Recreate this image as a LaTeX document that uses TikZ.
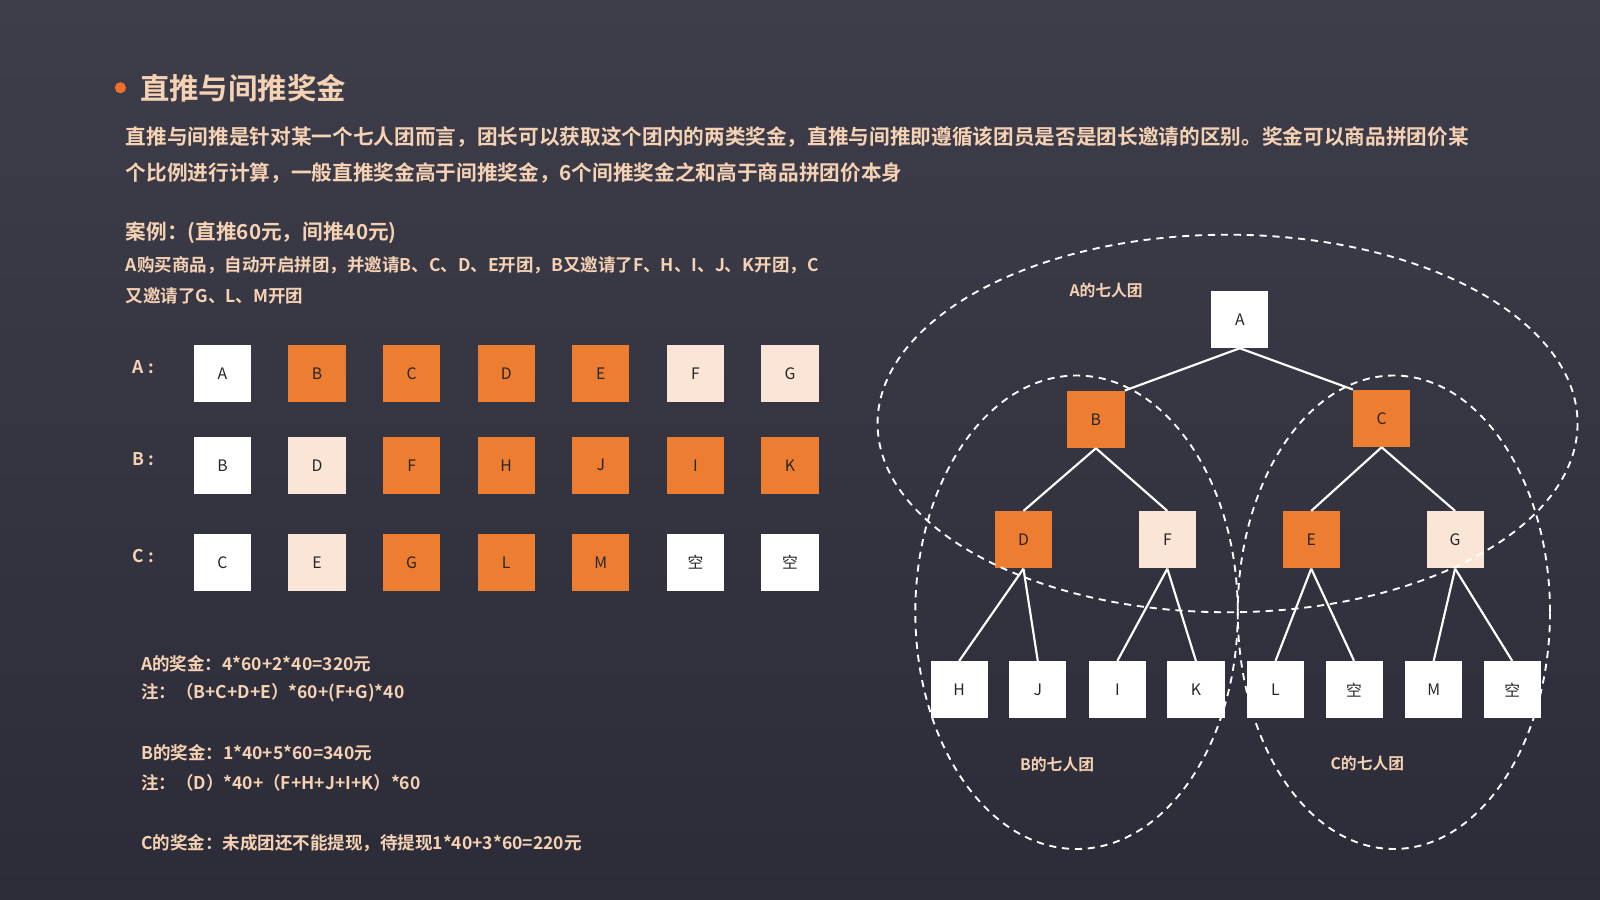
\documentclass[tikz,border=0pt]{standalone}
\usepackage{fontspec}
\setmainfont{Noto Sans CJK SC}[BoldFont={* Bold}]
\begin{document}
\begin{tikzpicture}[x=0.025cm,y=-0.025cm,
 bx/.style={minimum size=1.4cm,inner sep=0,font=\fontsize{11}{12}\selectfont,text=black!85},
 W/.style={bx,fill=white},O/.style={bx,fill=orng},L/.style={bx,fill=lite},
 tx/.style={text=peach,font=\bfseries\fontsize{14.4}{16}\selectfont,anchor=west,inner sep=0},
 sm/.style={text=peach,font=\bfseries\fontsize{12.2}{14}\selectfont,anchor=west,inner sep=0},
 ed/.style={white,line width=1.5pt},
 el/.style={white,dashed,line width=1.3pt,dash pattern=on 5pt off 4pt}]
\definecolor{orng}{HTML}{ED7D31}\definecolor{lite}{HTML}{FBE5D6}\definecolor{peach}{HTML}{F6D2B4}
\shade[top color={rgb,255:red,62;green,61;blue,74},bottom color={rgb,255:red,44;green,44;blue,56}] (0,0) rectangle (1568,882);
\useasboundingbox (0,0) rectangle (1568,882);
\fill[orng!90!red] (118,86) circle (5.5);
\node[anchor=west,inner sep=0,text=peach,font=\bfseries\fontsize{20.5}{22}\selectfont] (t) at (137,86) {直推与间推奖金};
\node[tx] (l1) at (123,134) {直推与间推是针对某一个七人团而言，团长可以获取这个团内的两类奖金，直推与间推即遵循该团员是否是团长邀请的区别。奖金可以商品拼团价某};
\node[tx] (l2) at (123,170) {个比例进行计算，一般直推奖金高于间推奖金，6个间推奖金之和高于商品拼团价本身};
\node[tx] (l3) at (123,228) {案例：(直推60元，间推40元)};
\node[sm] (l4) at (123,260) {A购买商品，自动开启拼团，并邀请B、C、D、E开团，B又邀请了F、H、I、J、K开团，C};
\node[sm] (l5) at (123,290) {又邀请了G、L、M开团};
\node[sm] (ra) at (130,360) {A :};
\node[sm] (rb) at (130,450) {B :};
\node[sm] (rc) at (130,545) {C :};
\foreach \s/\t [count=\i from 0] in {W/A,O/B,O/C,O/D,O/E,L/F,L/G}{
 \pgfmathsetmacro\xx{218+\i*92.7}\node[\s] (a\i) at (\xx,366) {\t};}
\foreach \s/\t [count=\i from 0] in {W/B,L/D,O/F,O/H,O/J,O/I,O/K}{
 \pgfmathsetmacro\xx{218+\i*92.7}\node[\s] (b\i) at (\xx,456) {\t};}
\foreach \s/\t [count=\i from 0] in {W/C,L/E,O/G,O/L,O/M,W/空,W/空}{
 \pgfmathsetmacro\xx{218+\i*92.7}\node[\s] (c\i) at (\xx,551) {\t};}
\node[sm] (s1) at (138,650) {A的奖金：4*60+2*40=320元};
\node[sm] (s2) at (138,679) {注：（B+C+D+E）*60+(F+G)*40};
\node[sm] (s3) at (138,738) {B的奖金：1*40+5*60=340元};
\node[sm] (s4) at (138,767) {注：（D）*40+（F+H+J+I+K）*60};
\node[sm] (s5) at (138,826) {C的奖金：未成团还不能提现，待提现1*40+3*60=220元};
% tree
\node[W] (A) at (1215,313) {A};
\node[O] (B) at (1074,411) {B};\node[O] (C) at (1354,410) {C};
\node[O] (D) at (1003,529) {D};\node[L] (F) at (1144,529) {F};
\node[O] (E) at (1285,529) {E};\node[L] (G) at (1426,529) {G};
\foreach \n/\t/\xx in {H/H/940,J/J/1017,I/I/1095,K/K/1172,Lf/L/1250,X1/空/1327,M/M/1405,X2/空/1482}
 \node[W] (\n) at (\xx,676) {\t};
\draw[ed] (A.south)--(B.north east);\draw[ed] (A.south)--(C.north west);
\draw[ed] (B.south)--(D.north);\draw[ed] (B.south)--(F.north);
\draw[ed] (C.south)--(E.north);\draw[ed] (C.south)--(G.north);
\draw[ed] (D.south)--(H.north);\draw[ed] (D.south)--(J.north);
\draw[ed] (F.south)--(I.north);\draw[ed] (F.south)--(K.north);
\draw[ed] (E.south)--(Lf.north);\draw[ed] (E.south)--(X1.north);
\draw[ed] (G.south)--(M.north);\draw[ed] (G.south)--(X2.north);
\draw[el] (1203,415) ellipse [x radius=343,y radius=185];
\draw[el] (1055,600) ellipse [x radius=158,y radius=232];
\draw[el] (1366,600) ellipse [x radius=153,y radius=232];
\node[sm,anchor=center,font=\bfseries\fontsize{11}{12}\selectfont] (ga) at (1084,285) {A的七人团};
\node[sm,anchor=center,font=\bfseries\fontsize{11}{12}\selectfont] (gb) at (1036,749) {B的七人团};
\node[sm,anchor=center,font=\bfseries\fontsize{11}{12}\selectfont] (gc) at (1340,748) {C的七人团};
\end{tikzpicture}
\end{document}
